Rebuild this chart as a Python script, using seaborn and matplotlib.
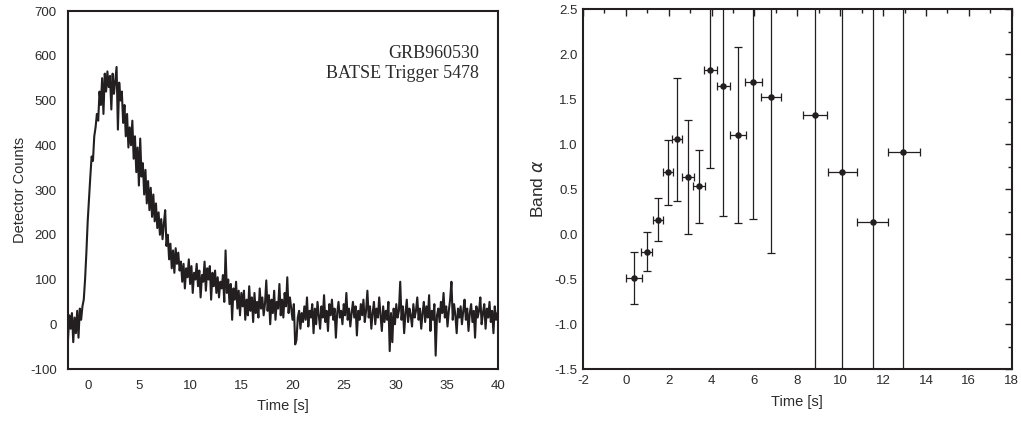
"""
    GRB960530 light curve and Band alpha evolution
"""

import numpy as np
import pandas as pd
import matplotlib
matplotlib.use("Agg")
import matplotlib.pyplot as plt
import seaborn as sns
from matplotlib.ticker import MultipleLocator, FormatStrFormatter

# light curve: detector counts in 0.128 s bins starting at t = -1.92 s
lc_start = -1.92
lc_bin = 0.128
lc_counts = [
    -35, 20, -10, 25, -40, 15, -20, 30, -30, 35, 10, 40, 55,
    100, 160, 230, 280, 330, 375, 365, 420, 440, 470,
    455, 520, 490, 550, 470, 560, 520, 565, 530, 555,
    480, 560, 515, 545, 575, 435, 540, 500, 520, 450,
    490, 420, 470, 395, 440, 400, 455, 370, 420, 340,
    395, 310, 415, 330, 360, 290, 345, 270, 320, 255,
    305, 240, 290, 230, 270, 215, 250, 200, 235, 190,
    225, 255, 175, 200, 145, 180, 125, 165, 115, 170,
    135, 160, 120, 140,
    95, 135, 80, 125, 105, 145, 90, 130, 70, 115, 100, 135,
    85, 120, 60, 110, 95, 140, 75, 125, 100, 130, 55, 115,
    85, 120, 70, 105, 60, 95, 80, 110, 50, 165, 70, 100,
    45, 90, 10, 80, 55, 95, 35, 75, 20, 70,
    40, 75, 10, 55, 20, 85, 30, 60, 5, 70, 25, 50, 15, 80, 35,
    60, 20, 45, 98, 30, 65, 0, 55, 25, 75, 10, 50, 35, 90, 20,
    55, 15, 70, 40, 105, 25, 60, 35, 10, 45, -45, -35, 15, 30, -10,
    25, 5, 40, 10, 60, -5, 30, 15, 45, -20, 35, 0, 50, 20, -10,
    40, 15, 65, 5, 30, -15, 45, 20, 55, 10, 35, -30, 25, 50, 15,
    30, 0, 45, 20, 70, 10, 35, -5, 25, 50, 15, 40, -25, 30, 10,
    45, 20, 55, 5, 30, 75, 15, 40, -10, 25, 50, 0, 35, 15, 60,
    20, -15, 40, 5, 30, 10, 50, -60, 25, -40, 35, 0, 45, 15, 30,
    95, 10, 40, -20, 25, 55, 5, 35, 20, -5, 45, 15, 30, 60, 10,
    35, -10, 25, 50, 5, 40, 15, 65, -15, 30, 10, 45, -70, 20, 35,
    5, 50, 25, 70, 15, 40, -5, 30, 55, 95, 10, 45, 20, -20, 35,
    15, 40, 0, 30, 55, 10, 35, -15, 25, 45, 5, 30, -30, 40, 15,
    30, 60, 0, 25, 45, -10, 35, 15, 50, 5, 30, -20, 40, 10, 25,
]

# Band alpha fits
alpha_t = [0.38, 0.97, 1.48, 1.96, 2.40, 2.88, 3.40, 3.94, 4.55, 5.23,
           5.93, 6.79, 8.83, 10.10, 11.52, 12.94]
alpha_t_lo = [0.02, 0.70, 1.28, 1.73, 2.17, 2.62, 3.13, 3.64, 4.27, 4.86,
              5.57, 6.29, 8.25, 9.42, 10.78, 12.22]
alpha_t_hi = [0.74, 1.23, 1.75, 2.20, 2.63, 3.16, 3.68, 4.24, 4.87, 5.59,
              6.33, 7.22, 9.40, 10.80, 12.22, 13.70]
alpha = [-0.49, -0.20, 0.16, 0.685, 1.056, 0.633, 0.537, 1.822, 1.645, 1.097,
         1.689, 1.519, 1.326, 0.685, 0.13, 0.908]
alpha_lo = [-0.78, -0.41, -0.08, 0.322, 0.367, 0.0, 0.126, 0.73, 0.197, 0.122,
            0.17, -0.215, -5.0, -5.0, -5.0, -5.0]
alpha_hi = [-0.197, 0.02, 0.40, 1.048, 1.737, 1.263, 0.937, 5.0, 5.0, 2.074,
            5.0, 5.0, 5.0, 5.0, 5.0, 5.0]

sns.set_style("white")
plt.rcParams["font.family"] = ["Liberation Sans", "DejaVu Sans"]
plt.rcParams["axes.unicode_minus"] = False

ink = "#231f20"
text_col = "#2b2b2b"

fig = plt.figure(figsize=(10.21, 4.24), dpi=100)
ax1 = fig.add_axes([0.0666, 0.1297, 0.4212, 0.8443])
ax2 = fig.add_axes([0.571, 0.1297, 0.4199, 0.849])

# left: light curve
lc = pd.DataFrame({"t": lc_start + lc_bin * np.arange(len(lc_counts)),
                   "counts": lc_counts})
sns.lineplot(data=lc, x="t", y="counts", ax=ax1, color=ink, lw=1.5,
             estimator=None, sort=True)
ax1.set_xlim(-1.92, 40)
ax1.set_ylim(-100, 700)
ax1.xaxis.set_major_locator(MultipleLocator(5))
ax1.yaxis.set_major_locator(MultipleLocator(100))
ax1.tick_params(length=0, labelsize=9.5, labelcolor=text_col, pad=8)
ax1.set_xlabel("Time [s]", fontsize=10.5, color=text_col, labelpad=5)
ax1.set_ylabel("Detector Counts", fontsize=10.5, color=text_col, labelpad=2)
for s in ax1.spines.values():
    s.set_linewidth(1.5)
    s.set_color(ink)
ax1.text(0.955, 0.905, "GRB960530\nBATSE Trigger 5478", transform=ax1.transAxes,
         ha="right", va="top", fontsize=13, color=text_col,
         family=["Liberation Serif", "DejaVu Serif"], linespacing=1.2)

# right: Band alpha
xe = [np.subtract(alpha_t, alpha_t_lo), np.subtract(alpha_t_hi, alpha_t)]
ye = [np.subtract(alpha, alpha_lo), np.subtract(alpha_hi, alpha)]
ax2.errorbar(alpha_t, alpha, xerr=xe, yerr=ye, fmt="none", ecolor=ink,
             elinewidth=0.9, capsize=2.6, capthick=0.9)
sns.scatterplot(x=alpha_t, y=alpha, ax=ax2, color=ink, s=22, edgecolor=ink,
                linewidth=0, zorder=3)
ax2.set_xlim(-2, 18)
ax2.set_ylim(-1.5, 2.5)
ax2.xaxis.set_major_locator(MultipleLocator(2))
ax2.xaxis.set_minor_locator(MultipleLocator(1))
ax2.yaxis.set_major_locator(MultipleLocator(0.5))
ax2.yaxis.set_minor_locator(MultipleLocator(0.25))
ax2.yaxis.set_major_formatter(FormatStrFormatter("%.1f"))
ax2.tick_params(which="both", direction="in", top=True, right=True,
                color=ink, width=1.0, labelsize=9.5, labelcolor=text_col)
ax2.tick_params(which="major", length=5, pad=4)
ax2.tick_params(which="minor", length=3)
ax2.set_xlabel("Time [s]", fontsize=10.5, color=text_col, labelpad=6)
ax2.set_ylabel(r"Band $\alpha$", fontsize=12.5, color=text_col, labelpad=6)
for s in ax2.spines.values():
    s.set_linewidth(1.5)
    s.set_color(ink)

fig.savefig("out.png", dpi=100)
